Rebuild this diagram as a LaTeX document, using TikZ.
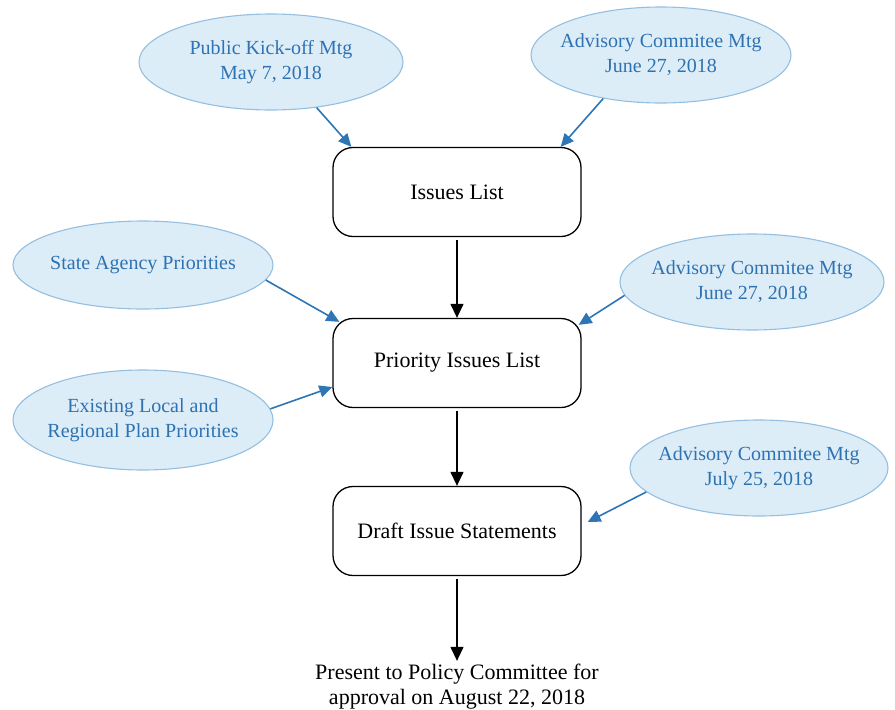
\documentclass[tikz,border=0pt]{standalone}
\usepackage{fontspec}
\setmainfont{Liberation Serif}
\usetikzlibrary{shapes.geometric,arrows.meta}
\definecolor{bubblefill}{HTML}{DCEDF8}
\definecolor{bubbleline}{HTML}{94BFE0}
\definecolor{bubbletext}{HTML}{2E72B2}
\definecolor{arrowblue}{HTML}{2E75B6}

\begin{document}
\begin{tikzpicture}[x=1pt,y=-1pt,
    bubble/.style={ellipse,draw=bubbleline,fill=bubblefill,line width=1.1pt,
      minimum width=260pt,minimum height=96pt,inner xsep=-10pt,inner ysep=0pt,
      text=bubbletext,font=\fontsize{20}{25}\selectfont,align=center},
    stage/.style={rectangle,rounded corners=20pt,draw=black,line width=1.3pt,
      minimum width=248pt,minimum height=89pt,font=\fontsize{22}{25}\selectfont},
    feed/.style={draw=arrowblue,line width=1.6pt,-{Triangle[length=13pt,width=12pt]}},
    flow/.style={draw=black,line width=1.3pt,shorten <=3pt,-{Triangle[length=14pt,width=13pt]}}]

    % frame of the page
    \useasboundingbox (0,0) rectangle (895,710);

    % meetings and sources
    \node[bubble,minimum width=264pt] (kickoff) at (271,62) {Public Kick-off Mtg\\May 7, 2018};
    \node[bubble] (advjune) at (661,55) {Advisory Commitee Mtg\\June 27, 2018};
    \node[bubble,minimum height=88pt] (state) at (143,265) {State Agency Priorities};
    \node[bubble,minimum width=264pt] (advjunetwo) at (752,282) {Advisory Commitee Mtg\\June 27, 2018};
    \node[bubble,minimum height=100pt] (existing) at (143,420) {Existing Local and\\Regional Plan Priorities};
    \node[bubble,minimum width=258pt] (advjuly) at (759,468) {Advisory Commitee Mtg\\July 25, 2018};

    % steps
    \node[stage] (issues) at (457,192) {Issues List};
    \node[stage] (priority) at (457,363) {Priority Issues List};
    \node[stage] (draft) at (457,531) {Draft Issue Statements};
    \node[font=\fontsize{22}{25}\selectfont,align=center] (present) at (457,687)
      {Present to Policy Committee for\\approval on August 22, 2018};

    % blue arrows into the steps
    \draw[feed] (kickoff.-45) -- ([xshift=19pt]issues.north west);
    \draw[feed] (advjune.-143) -- ([xshift=-21pt]issues.north east);
    \draw[feed] (state.-7) -- ([xshift=7pt,yshift=-4pt]priority.north west);
    \draw[feed] (advjunetwo.-174) -- ([xshift=-3pt,yshift=-7pt]priority.north east);
    \draw[feed] (existing.5) -- ([yshift=-24pt]priority.west);
    \draw[feed] (advjuly.-168) -- ([xshift=6pt,yshift=9pt]draft.east);

    % black arrows down the chain
    \draw[flow] (issues) -- (priority);
    \draw[flow] (priority) -- (draft);
    \draw[flow] (draft) -- (present);
\end{tikzpicture}
\end{document}
